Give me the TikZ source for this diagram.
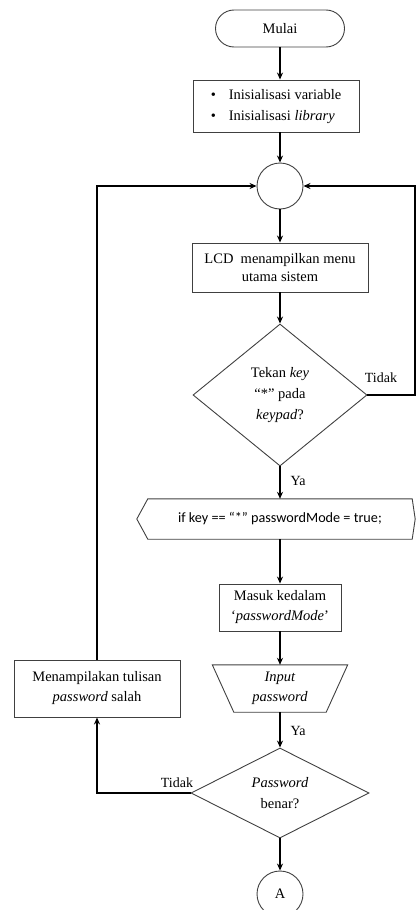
\documentclass[tikz,border=0pt]{standalone}
\usepackage{fontspec}
\setmainfont{Liberation Serif}
\newfontfamily\calfont{Carlito}
\usetikzlibrary{shapes.geometric,arrows.meta}
\begin{document}
\begin{tikzpicture}[x=1pt,y=1pt,
  font=\fontsize{14.5}{19}\selectfont,
  shp/.style={draw=black!75, line width=0.9pt},
  box/.style={shp, rectangle, align=center, inner sep=0pt},
  dia/.style={shp, diamond, align=center, inner sep=0pt, font=\fontsize{14.5}{21}\selectfont},
  circ/.style={shp, circle, inner sep=0pt, minimum size=46pt},
  conn/.style={draw=black, line width=1.4pt},
  arr/.style={conn, -{Stealth[length=7pt,width=6pt]}},
  lbl/.style={inner sep=0pt, font=\fontsize{14}{16}\selectfont}]
\useasboundingbox (0,0) rectangle (416,-910);

\node[box, rounded corners=18.5pt, minimum width=129pt, minimum height=37pt] (mulai) at (280,-28.5) {Mulai};
\node[box, minimum width=166pt, minimum height=52pt] (init) at (276,-106)
  {\begin{tabular}{@{}l@{\hspace{13pt}}l@{}}\textbullet & Inisialisasi variable\\[2pt] \textbullet & Inisialisasi \textit{library}\end{tabular}};
\node[circ] (c1) at (280,-186) {};
\node[box, minimum width=176pt, minimum height=49pt, font=\fontsize{14.5}{18}\selectfont] (lcd) at (280,-267.5) {LCD\ \ menampilkan menu\\utama sistem};
\node[dia, minimum width=174pt, minimum height=142pt] (d1) at (280,-395) {Tekan \textit{key}\\“*” pada\\\textit{keypad}?};

\node[inner sep=0pt, minimum width=264pt, minimum height=40pt, font=\calfont\fontsize{14.2}{16}\selectfont] (hex) at (280,-519) {if key == “*” passwordMode = true;};
\draw[shp] (hex.north west) -- (hex.north east) -- ([xshift=3pt]hex.east) -- (hex.south east) -- (hex.south west) -- ([xshift=-11pt]hex.west) -- cycle;

\node[box, minimum width=122pt, minimum height=47pt, font=\fontsize{14.5}{20}\selectfont] (masuk) at (280,-607.5) {Masuk kedalam\\‘\textit{passwordMode}’};

\node[inner sep=0pt, minimum width=92pt, minimum height=47pt, align=center, font=\fontsize{14.5}{20}\selectfont] (inp) at (280,-688.5) {\textit{Input}\\\textit{password}};
\draw[shp] ([xshift=-21.5pt]inp.north west) -- ([xshift=21.5pt]inp.north east) -- (inp.south east) -- (inp.south west) -- cycle;

\node[dia, minimum width=178pt, minimum height=90pt] (d2) at (280,-793) {\textit{Password}\\benar?};
\node[circ] (A) at (280,-894) {A};

\node[box, minimum width=166pt, minimum height=57pt, font=\fontsize{14.5}{20}\selectfont] (menam) at (97,-688.5) {Menampilakan tulisan\\\textit{password} salah};

\coordinate (rc) at (415,0);

\draw[arr] (mulai) -- (mulai |- init.north);
\draw[arr] (c1 |- init.south) -- (c1);
\draw[arr] (c1) -- (lcd);
\draw[arr] (lcd) -- (d1);
\draw[arr] (d1) -- (d1 |- hex.north);
\draw[arr] (d1 |- hex.south) -- (masuk);
\draw[arr] (masuk) -- (inp);
\draw[arr] (inp) -- (d2);
\draw[arr] (d2) -- (A);
\draw[arr] (d1.east) -- (rc |- d1.east) -- (rc |- c1) -- (c1.east);
\draw[arr] (d2.west) -- (menam |- d2.west) -- (menam.south);
\draw[arr] (menam.north) -- (menam.north |- c1) -- (c1.west);

\node[lbl] (t1) at (381,-378) {Tidak};
\node[lbl] (y1) at (298,-481) {Ya};
\node[lbl] (y2) at (298,-731) {Ya};
\node[lbl] (t2) at (177,-783) {Tidak};
\end{tikzpicture}
\end{document}
